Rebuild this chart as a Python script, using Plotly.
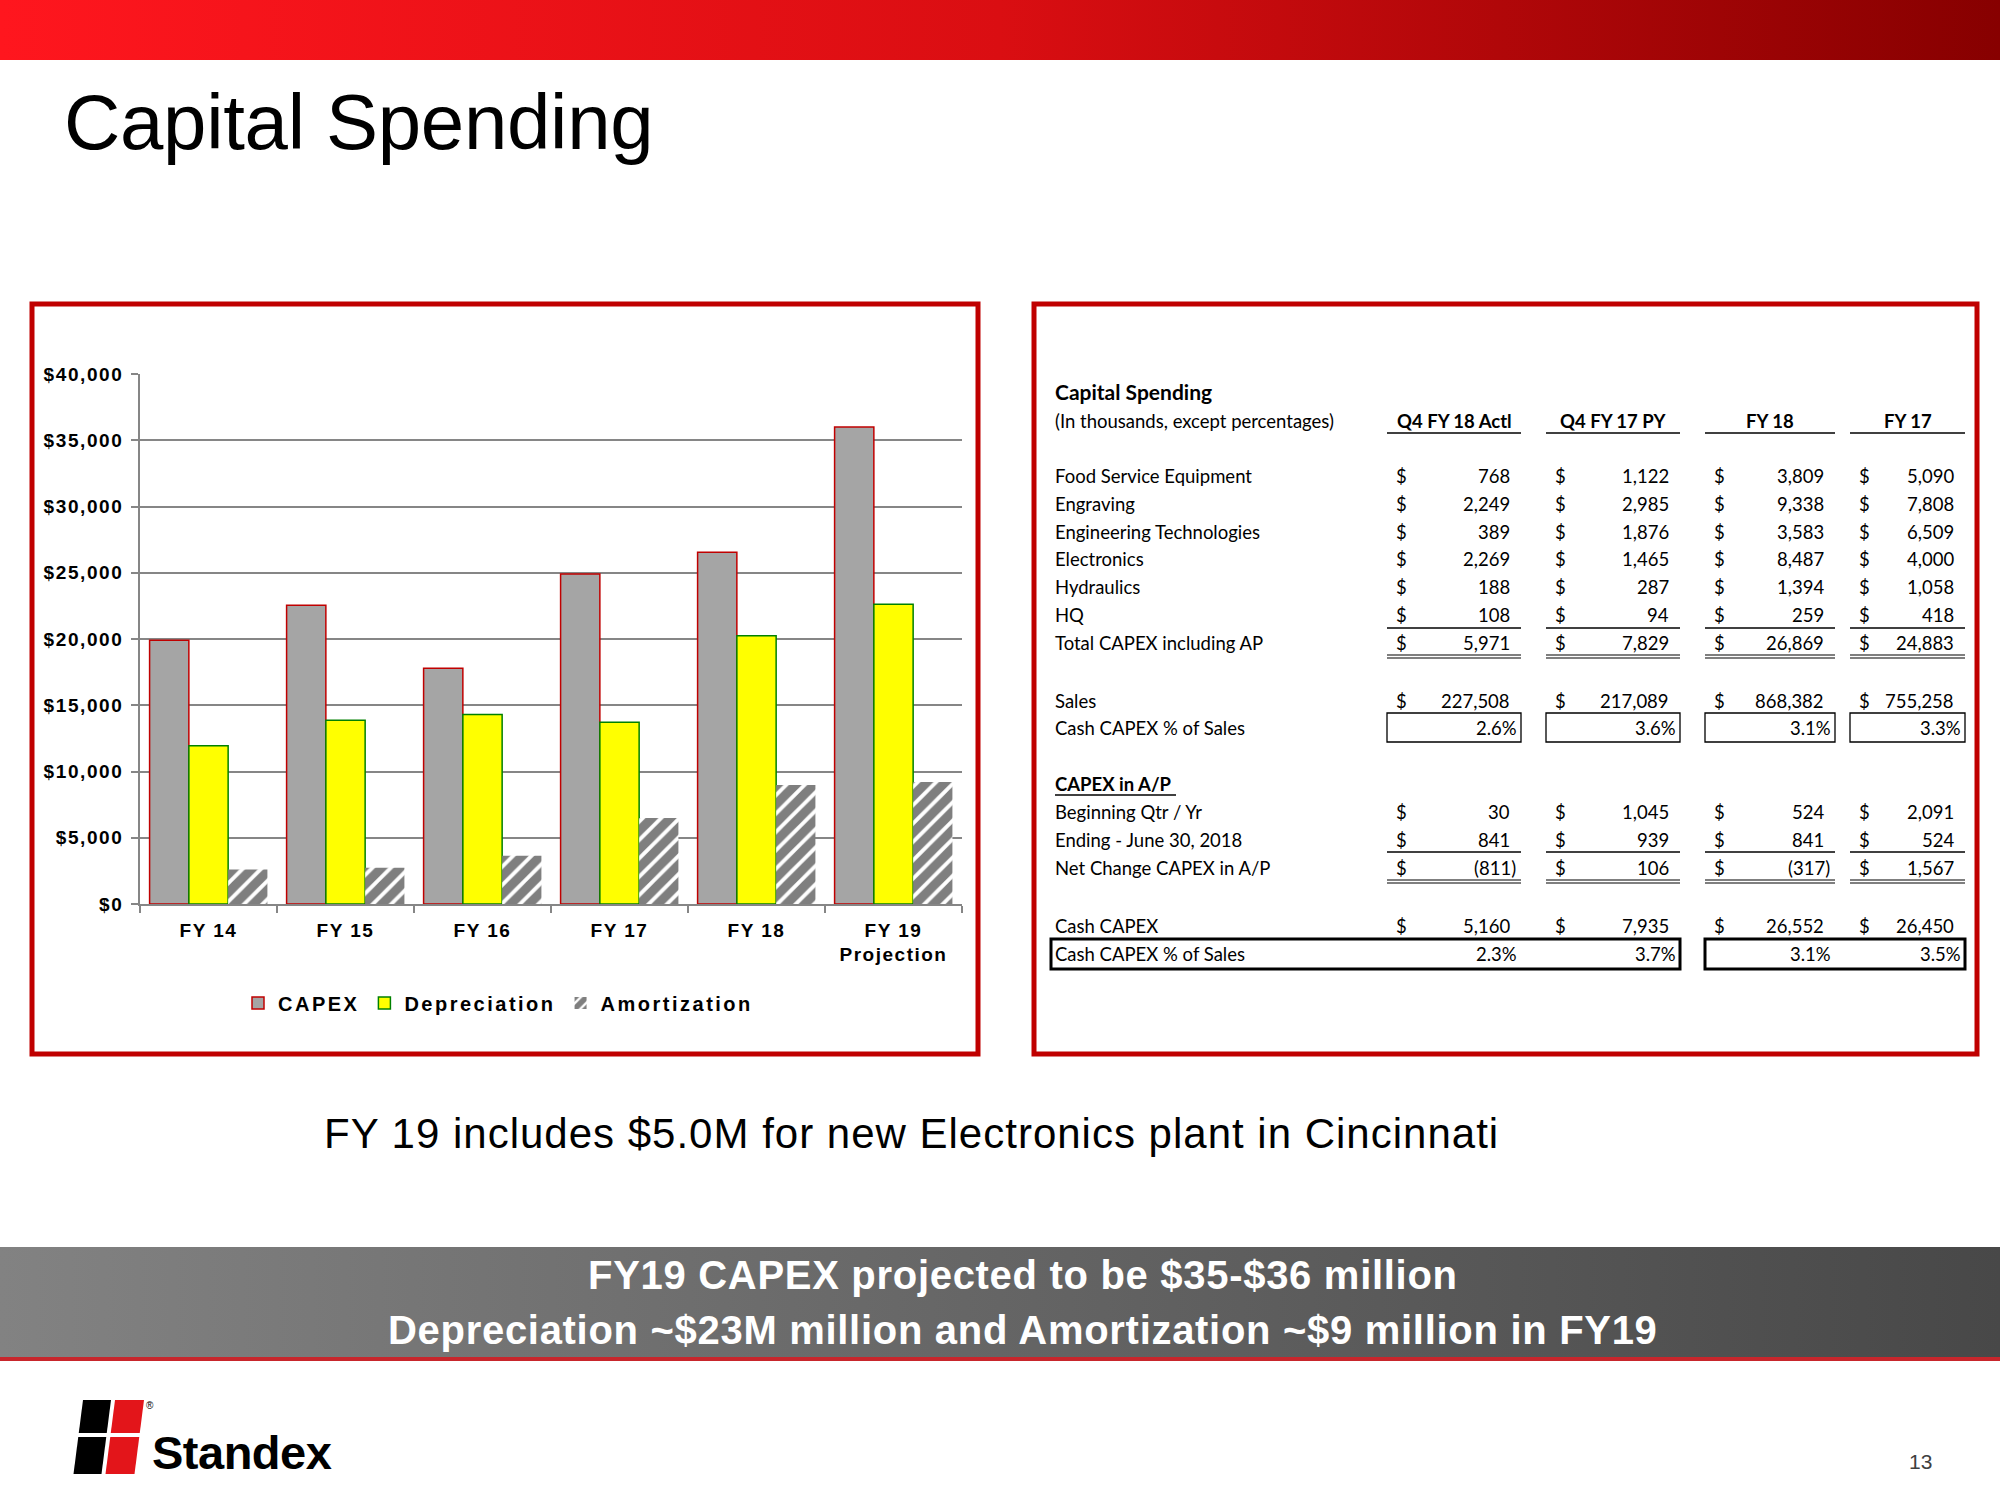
import plotly.graph_objects as go

# ---------------- data ----------------
years = ["FY 14", "FY 15", "FY 16", "FY 17", "FY 18", "FY 19 Projection"]
year_labels = [["FY 14"], ["FY 15"], ["FY 16"], ["FY 17"], ["FY 18"], ["FY 19", "Projection"]]
capex = [19900, 22550, 17800, 24900, 26550, 36000]
depreciation = [11950, 13870, 14300, 13720, 20250, 22630]
amortization = [2600, 2740, 3650, 6500, 8980, 9200]
y_ticks = [0, 5000, 10000, 15000, 20000, 25000, 30000, 35000, 40000]

slide_title = "Capital Spending"
table_title = "Capital Spending"
table_subtitle = "(In thousands, except percentages)"
period_headers = ["Q4 FY 18 Actl", "Q4 FY 17 PY", "FY 18", "FY 17"]
segment_names = ["Food Service Equipment", "Engraving", "Engineering Technologies",
                 "Electronics", "Hydraulics", "HQ"]
segment_values = [
    [768, 1122, 3809, 5090],
    [2249, 2985, 9338, 7808],
    [389, 1876, 3583, 6509],
    [2269, 1465, 8487, 4000],
    [188, 287, 1394, 1058],
    [108, 94, 259, 418],
]
total_capex = [5971, 7829, 26869, 24883]
sales = [227508, 217089, 868382, 755258]
capex_pct_sales = [2.6, 3.6, 3.1, 3.3]
ap_beginning = [30, 1045, 524, 2091]
ap_ending = [841, 939, 841, 524]
ap_net_change = [-811, 106, -317, 1567]
cash_capex = [5160, 7935, 26552, 26450]
cash_capex_pct = [2.3, 3.7, 3.1, 3.5]

footnote = "FY 19 includes $5.0M for new Electronics plant in Cincinnati"
banner_lines = ["FY19 CAPEX projected to be $35-$36 million",
                "Depreciation ~$23M million and Amortization ~$9 million in FY19"]
page_number = "13"

# ---------------- layout geometry (pixels) ----------------
W, H = 2000, 1500
PX0, PX1, PY0, PY1 = 140, 962, 374, 904
RED = "#C00000"
GRID = "#868686"
SANS = "Liberation Sans, Arial, sans-serif"
TFONT = "Lato, sans-serif"


def ls(text, s):
    return f"<span style='letter-spacing:{s}px'>{text}</span>"


fig = go.Figure()

# ---- background decorations (pixel coordinate subplot x/y) ----
fig.add_trace(go.Scatter(
    x=[0, W, W, 0, 0], y=[0, 0, 60, 60, 0], mode="lines", fill="toself",
    line=dict(width=0), hoverinfo="skip", showlegend=False,
    fillgradient=dict(type="horizontal",
                      colorscale=[[0, "#FF161E"], [0.5, "#DA0E12"], [1, "#870000"]]),
    xaxis="x", yaxis="y"))
fig.add_trace(go.Scatter(
    x=[0, W, W, 0, 0], y=[1247, 1247, 1357, 1357, 1247], mode="lines", fill="toself",
    line=dict(width=0), hoverinfo="skip", showlegend=False,
    fillgradient=dict(type="horizontal",
                      colorscale=[[0, "#828282"], [1, "#484848"]]),
    xaxis="x", yaxis="y"))

# ---- bar chart ----
fig.add_trace(go.Bar(
    x=years, y=capex, name=ls("CAPEX", 2.5),
    marker=dict(color="#A5A5A5", line=dict(color=RED, width=1.5)),
    xaxis="x2", yaxis="y2"))
fig.add_trace(go.Bar(
    x=years, y=depreciation, name=ls("Depreciation", 2.5),
    marker=dict(color="#FFFF00", line=dict(color="#008000", width=1.5)),
    xaxis="x2", yaxis="y2"))
fig.add_trace(go.Bar(
    x=years, y=amortization, name=ls("Amortization", 2.5),
    marker=dict(color="white", line=dict(width=0),
                pattern=dict(shape="/", fgcolor="black", bgcolor="white",
                             size=13, solidity=0.7)),
    xaxis="x2", yaxis="y2"))

shapes = []
annotations = []


def line(x0, y0, x1, y1, color="black", width=1.3):
    shapes.append(dict(type="line", xref="x", yref="y", x0=x0, y0=y0, x1=x1, y1=y1,
                       line=dict(color=color, width=width), layer="above"))


def rect(x0, y0, x1, y1, color="black", width=1.3, fill=None):
    shapes.append(dict(type="rect", xref="x", yref="y", x0=x0, y0=y0, x1=x1, y1=y1,
                       line=dict(color=color, width=width),
                       fillcolor=fill if fill else "rgba(0,0,0,0)", layer="above"))


def text(x, y, t, size, anchor="left", family=TFONT, color="black", weight="normal"):
    annotations.append(dict(xref="x", yref="y", x=x, y=y, text=t, showarrow=False,
                            xanchor=anchor, yanchor="middle", borderpad=0, borderwidth=0,
                            font=dict(family=family, size=size, color=color, weight=weight)))


# red border boxes
rect(32, 304, 978, 1054, color=RED, width=5)
rect(1034, 304, 1977, 1054, color=RED, width=5)
# red line under banner
shapes.append(dict(type="rect", xref="x", yref="y", x0=0, x1=W, y0=1357, y1=1361,
                   line=dict(width=0), fillcolor="#C8262C", layer="above"))

# slide title
text(64, 122, ls(slide_title, -0.3), 78, family=SANS)

# footnote
text(911, 1133, ls(footnote, 1.0), 42, anchor="center", family=SANS)

# banner text
text(1023, 1275, ls(banner_lines[0], 0.7), 40, anchor="center", family=SANS,
     color="white", weight="bold")
text(1023, 1330, ls(banner_lines[1], 0.7), 40, anchor="center", family=SANS,
     color="white", weight="bold")

# page number
text(1920, 1461, page_number, 21, anchor="center", family=SANS, color="#404040")

# logo
shapes.append(dict(type="path", xref="x", yref="y", layer="above",
                   path="M83,1400 L111,1400 L101.5,1474 L73.5,1474 Z",
                   fillcolor="#000000", line=dict(width=0)))
shapes.append(dict(type="path", xref="x", yref="y", layer="above",
                   path="M115,1400 L144,1400 L134.5,1474 L105.5,1474 Z",
                   fillcolor="#E3151A", line=dict(width=0)))
shapes.append(dict(type="rect", xref="x", yref="y", layer="above",
                   x0=68, x1=150, y0=1433, y1=1437, fillcolor="white", line=dict(width=0)))
text(152, 1452, ls("Standex", -0.5), 47, family=SANS, weight="bold")
text(150, 1405, "®", 10, anchor="center", family=SANS)

# ---------------- table ----------------
col_left = [1387, 1546, 1705, 1850]
col_right = [1521, 1680, 1835, 1965]
LBL = 1055
TS = 18.5


def fmt_num(v):
    return f"({abs(v):,})" if v < 0 else f"{v:,}"


def money_row(y, label, vals, bold=False):
    text(LBL, y, label, TS, weight="bold" if bold else "normal")
    for i, v in enumerate(vals):
        text(col_left[i] + 9, y, "$", TS)
        s = fmt_num(v)
        off = 5 if s.endswith(")") else 11
        text(col_right[i] - off, y, s, TS, anchor="right")


def pct_row(y, vals):
    for i, v in enumerate(vals):
        text(col_right[i] - 4, y, f"{v:.1f}%", TS, anchor="right")


text(LBL, 391, table_title, 21, weight="bold")
text(LBL, 421, table_subtitle, TS)
for i, h in enumerate(period_headers):
    text((col_left[i] + col_right[i]) / 2, 421, h, TS, anchor="center", weight="bold")
    line(col_left[i], 433, col_right[i], 433)

seg_y = [476 + 27.8 * k for k in range(len(segment_names))]
for k, name in enumerate(segment_names):
    money_row(seg_y[k], name, segment_values[k])
for i in range(4):
    line(col_left[i], 628, col_right[i], 628)
money_row(643, "Total CAPEX including AP", total_capex)
for i in range(4):
    line(col_left[i], 655, col_right[i], 655, width=1.2)
    line(col_left[i], 658, col_right[i], 658, width=1.2)

money_row(701, "Sales", sales)
text(LBL, 728, "Cash CAPEX % of Sales", TS)
for i in range(4):
    rect(col_left[i], 713, col_right[i], 742, width=1.3)
pct_row(728, capex_pct_sales)

text(LBL, 784, "CAPEX in A/P", TS, weight="bold")
line(LBL, 795, 1176, 795, width=1.3)
money_row(812, "Beginning Qtr / Yr", ap_beginning)
money_row(839.5, "Ending - June 30, 2018", ap_ending)
for i in range(4):
    line(col_left[i], 852, col_right[i], 852)
money_row(868, "Net Change CAPEX in A/P", ap_net_change)
for i in range(4):
    line(col_left[i], 880, col_right[i], 880, width=1.2)
    line(col_left[i], 883, col_right[i], 883, width=1.2)

money_row(926, "Cash CAPEX", cash_capex)
rect(1051, 939, 1680, 969, width=3)
rect(1705, 939, 1965, 969, width=3)
text(LBL, 954, "Cash CAPEX % of Sales", TS)
pct_row(954, cash_capex_pct)

# ---------------- layout ----------------
fig.update_layout(
    width=W, height=H, autosize=False,
    margin=dict(l=0, r=0, t=0, b=0, pad=0, autoexpand=False),
    paper_bgcolor="white", plot_bgcolor="rgba(0,0,0,0)",
    barmode="group", bargap=0.14, bargroupgap=0,
    showlegend=True,
    legend=dict(orientation="h", x=238 / W, xanchor="left", y=1 - 1003 / H,
                yanchor="middle", bgcolor="rgba(0,0,0,0)", traceorder="normal",
                font=dict(family=SANS, size=20, color="black", weight="bold")),
    xaxis=dict(domain=[0, 1], range=[0, W], visible=False, fixedrange=True,
               automargin=False),
    yaxis=dict(domain=[0, 1], range=[H, 0], visible=False, fixedrange=True,
               automargin=False),
    xaxis2=dict(domain=[PX0 / W, PX1 / W], anchor="y2", type="category",
                automargin=False,
                showline=True, linecolor=GRID, linewidth=1.5,
                ticks="outside", tickson="boundaries", ticklen=7, tickcolor=GRID,
                tickwidth=1.5, showgrid=False,
                tickvals=years,
                ticktext=["<br>".join(ls(p, 1.5) for p in parts) for parts in year_labels],
                ticklabelstandoff=8,
                tickfont=dict(family=SANS, size=19, color="black", weight="bold")),
    yaxis2=dict(domain=[1 - PY1 / H, 1 - PY0 / H], anchor="x2", range=[0, 40000],
                automargin=False,
                showline=True, linecolor=GRID, linewidth=1.5,
                ticks="outside", ticklen=7, tickcolor=GRID, tickwidth=1.5,
                showgrid=True, gridcolor=GRID, gridwidth=1.5, zeroline=False,
                tickvals=y_ticks,
                ticktext=[ls(f"${v:,}", 1.6) for v in y_ticks],
                ticklabelstandoff=4,
                tickfont=dict(family=SANS, size=19, color="black", weight="bold")),
    shapes=shapes,
    annotations=annotations,
)

fig.write_html("out.html", config={"displayModeBar": False},
               post_script="document.body.style.margin='0px';")
